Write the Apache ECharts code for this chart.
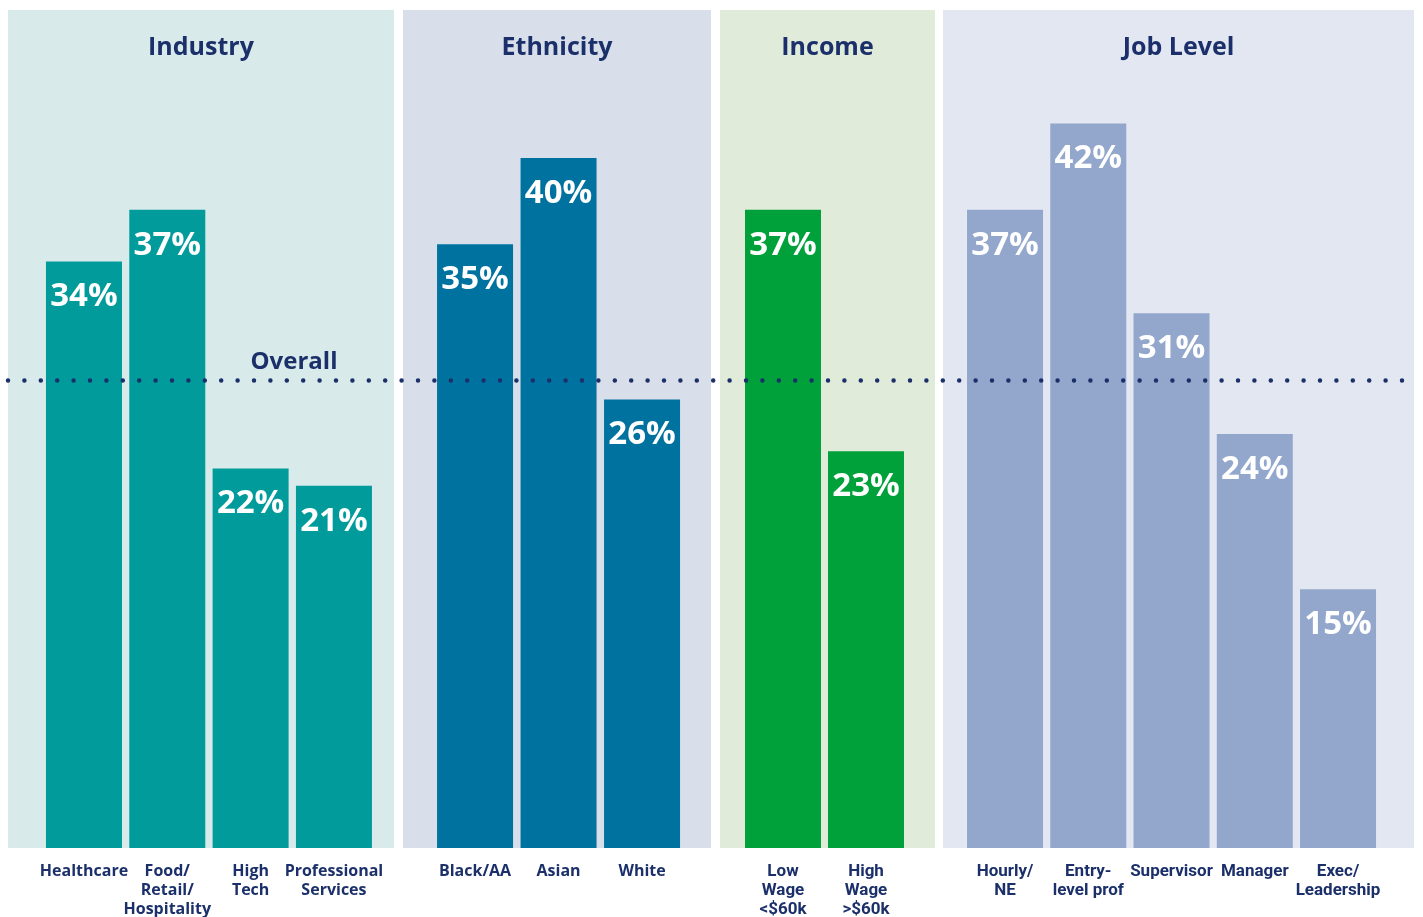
<!DOCTYPE html>
<html>
<head>
<meta charset="utf-8">
<script src="https://cdn.jsdelivr.net/npm/echarts@6/dist/echarts.min.js"></script>
<style>
  html, body { margin: 0; padding: 0; background: #ffffff; }
  #chart { width: 1423px; height: 917px; }
</style>
</head>
<body>
<div id="chart"></div>
<script>
// Share of respondents by group, in percent
const groupTitles = ['Industry', 'Ethnicity', 'Income', 'Job Level'];

const industryCats = ['Healthcare', 'Food/\nRetail/\nHospitality', 'High\nTech', 'Professional\nServices'];
const industryVals = [34, 37, 22, 21];

const ethnicityCats = ['Black/AA', 'Asian', 'White'];
const ethnicityVals = [35, 40, 26];

const incomeCats = ['Low\nWage\n<$60k', 'High\nWage\n>$60k'];
const incomeVals = [37, 23];

const jobCats = ['Hourly/\nNE', 'Entry-\nlevel prof', 'Supervisor', 'Manager', 'Exec/\nLeadership'];
const jobVals = [37, 42, 31, 24, 15];

const overallValue = 27.1;

const NAVY = '#1b306a';
const Y_MAX = 48;
const GRID_TOP = 20;
const GRID_BOTTOM = 69;

const groups = [
  { cats: industryCats, vals: industryVals, bar: '#009b9a', panel: '#d9eaea', px: [8, 394], grid: [42.3, 333.3], font: 'Open Sans', size: 16 },
  { cats: ethnicityCats, vals: ethnicityVals, bar: '#00729f', panel: '#d9dfea', px: [403, 711], grid: [433.3, 250.5], font: 'Open Sans', size: 16 },
  { cats: incomeCats, vals: incomeVals, bar: '#00a03a', panel: '#e0ebda', px: [720, 935], grid: [741.5, 166], font: 'Roboto', size: 17 },
  { cats: jobCats, vals: jobVals, bar: '#93a7cc', panel: '#e3e7f2', px: [943, 1414], grid: [963.4, 416.25], font: 'Roboto', size: 17 }
];

const chart = echarts.init(document.getElementById('chart'), null, { renderer: 'canvas' });

const grids = [], xAxes = [], yAxes = [], series = [], graphics = [];

groups.forEach((g, i) => {
  grids.push({
    left: g.grid[0], width: g.grid[1], top: GRID_TOP, bottom: GRID_BOTTOM,
    containLabel: false, outerBoundsMode: 'none'
  });
  xAxes.push({
    type: 'category', gridIndex: i, data: g.cats,
    axisLine: { show: false }, axisTick: { show: false },
    axisLabel: {
      interval: 0, margin: 14, color: NAVY, fontWeight: 'bold',
      fontFamily: g.font, fontSize: g.size, lineHeight: 19
    }
  });
  yAxes.push({ type: 'value', gridIndex: i, min: 0, max: Y_MAX, show: false, splitLine: { show: false } });
  series.push({
    type: 'bar', xAxisIndex: i, yAxisIndex: i, data: g.vals, barWidth: 76, z: 3,
    itemStyle: { color: g.bar },
    label: {
      show: true, position: 'insideTop', distance: 19,
      formatter: p => p.value + '%',
      color: '#ffffff', fontFamily: 'Open Sans', fontWeight: 'bold', fontSize: 33
    }
  });
  // group panel background
  graphics.push({
    type: 'rect', z: -10,
    shape: { x: g.px[0], y: 10, width: g.px[1] - g.px[0], height: 838 },
    style: { fill: g.panel }
  });
  graphics.push({
    type: 'text', z: -5,
    x: (g.px[0] + g.px[1]) / 2, y: 48,
    style: {
      text: groupTitles[i], fill: NAVY, font: 'bold 25px "Open Sans"',
      textAlign: 'center', textVerticalAlign: 'middle'
    }
  });
});

// full-width overlay grid carrying the dotted "Overall" reference line
grids.push({ left: 8, right: 9, top: GRID_TOP, bottom: GRID_BOTTOM, outerBoundsMode: 'none' });
xAxes.push({ type: 'value', gridIndex: 4, min: 0, max: 1, show: false, splitLine: { show: false } });
yAxes.push({ type: 'value', gridIndex: 4, min: 0, max: Y_MAX, show: false, splitLine: { show: false } });
series.push({
  type: 'line', xAxisIndex: 4, yAxisIndex: 4, z: 10, symbol: 'none', silent: true,
  data: [[0, overallValue], [1, overallValue]],
  lineStyle: { color: NAVY, width: 4.5, type: [0, 16.4], cap: 'round' }
});

chart.setOption({
  animation: false,
  grid: grids, xAxis: xAxes, yAxis: yAxes, series: series,
  graphic: graphics
});

const overallY = chart.convertToPixel({ yAxisIndex: 4 }, overallValue);
graphics.push({
  type: 'text', z: 20, x: 294, y: overallY - 18,
  style: {
    text: 'Overall', fill: NAVY, font: 'bold 24px "Open Sans"',
    textAlign: 'center', textVerticalAlign: 'middle'
  }
});
chart.setOption({ graphic: graphics });
</script>
</body>
</html>
